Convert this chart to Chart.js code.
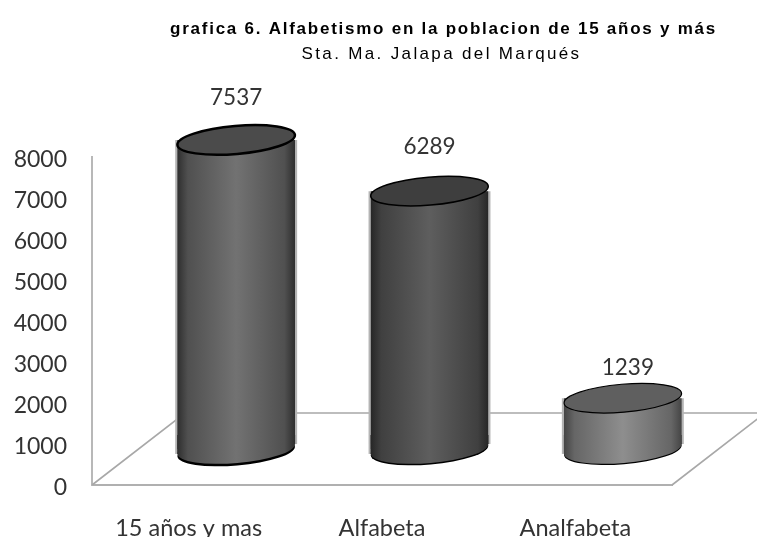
<!DOCTYPE html>
<html>
<head>
<meta charset="utf-8">
<style>html,body{margin:0;padding:0;background:#fff}canvas{display:block}</style>
<script src="https://cdn.jsdelivr.net/npm/chart.js@4"></script>
</head>
<body>
<canvas id="c" width="757" height="537"></canvas>
<script>
const categories = ['15 años y mas', 'Alfabeta', 'Analfabeta'];
const values = [7537, 6289, 1239];
const titleText = 'grafica 6. Alfabetismo en la poblacion de 15 años y más';
const subtitleText = 'Sta. Ma. Jalapa del Marqués';
const edgeColors = ['#2e2e2e', '#262626', '#444444'];
const shoulderColors = ['#505050', '#404040', '#666666'];
const midColors = ['#727272', '#5e5e5e', '#8e8e8e'];
const topColors = ['#4b4b4b', '#3e3e3e', '#5f5f5f'];
const rimWidths = [2.5, 1.5, 1.2];
const labelGaps = [42, 44, 30];
const labelShifts = [0, 0, 5];

const DEPTH_X = 47.5, DEPTH_Y = 36, RY = 14, TILT = -0.085;
const BACK_X = 93, BACK_Y = 72;

function bodyGradient(ctx, left, right, i) {
  const g = ctx.createLinearGradient(left, 0, right, 0);
  g.addColorStop(0, edgeColors[i]);
  g.addColorStop(0.09, shoulderColors[i]);
  g.addColorStop(0.5, midColors[i]);
  g.addColorStop(0.91, shoulderColors[i]);
  g.addColorStop(1, edgeColors[i]);
  return g;
}

const cylinderPlugin = {
  id: 'cylinder',
  beforeDraw(chart) {
    const boxes = {[titleText]: [1.75, 107.5], [subtitleText]: [2.35, 105.5]};
    chart.boxes.forEach(b => {
      const cfg = b.options && boxes[b.options.text];
      if (cfg && !b._patched) {
        const d = b.draw;
        b.draw = function () {
          const ctx = chart.ctx;
          ctx.save();
          ctx.letterSpacing = cfg[0] + 'px';
          ctx.translate(cfg[1], 0);
          d.call(b);
          ctx.restore();
          ctx.letterSpacing = '0px';
        };
        b._patched = true;
      }
    });
  },
  beforeDatasetsDraw(chart) {
    const {ctx, scales: {x, y}} = chart;
    const y0 = y.getPixelForValue(0);
    ctx.save();
    ctx.strokeStyle = '#a8a8a8';
    ctx.lineWidth = 1.6;
    ctx.beginPath();
    ctx.moveTo(x.left, y0);
    ctx.lineTo(x.left + BACK_X, y0 - BACK_Y);
    ctx.lineTo(chart.width, y0 - BACK_Y);
    ctx.moveTo(x.right, y0);
    ctx.lineTo(x.right + BACK_X, y0 - BACK_Y);
    ctx.stroke();
    ctx.restore();

    const bars = chart.getDatasetMeta(0).data;
    ctx.save();
    ctx.translate(DEPTH_X, -DEPTH_Y);
    bars.forEach((b, i) => {
      const rx = b.width / 2, dy = rx * Math.sin(TILT);
      // side halo, following the tilted base of the cylinder
      ctx.fillStyle = '#b4b4b4';
      ctx.beginPath();
      ctx.moveTo(b.x - rx - 2, b.y);
      ctx.lineTo(b.x + rx + 2, b.y);
      ctx.lineTo(b.x + rx + 2, b.base + dy);
      ctx.lineTo(b.x - rx - 2, b.base - dy);
      ctx.closePath();
      ctx.fill();
      // black rim under the base
      ctx.beginPath();
      ctx.ellipse(b.x, b.base + rimWidths[i], rx, RY, TILT, 0, Math.PI * 2);
      ctx.fillStyle = '#000';
      ctx.fill();
      // rounded base plus the band between the flat bar end and the tilted ends
      const grad = bodyGradient(ctx, b.x - rx, b.x + rx, i);
      ctx.fillStyle = grad;
      ctx.beginPath();
      ctx.ellipse(b.x, b.base, rx, RY, TILT, 0, Math.PI * 2);
      ctx.fill();
      ctx.beginPath();
      ctx.moveTo(b.x - rx, b.base - RY);
      ctx.lineTo(b.x + rx, b.base - RY);
      ctx.lineTo(b.x + rx, b.base + dy);
      ctx.lineTo(b.x - rx, b.base - dy);
      ctx.closePath();
      ctx.fill();
    });
    ctx.beginPath();
    bars.forEach(b => {
      const rx = b.width / 2, dy = rx * Math.sin(TILT);
      ctx.moveTo(b.x - rx, 0);
      ctx.lineTo(b.x + rx, 0);
      ctx.lineTo(b.x + rx, b.base + dy);
      ctx.lineTo(b.x - rx, b.base - dy);
      ctx.closePath();
    });
    ctx.clip();
  },
  afterDatasetsDraw(chart) {
    const {ctx} = chart;
    ctx.restore();
    const bars = chart.getDatasetMeta(0).data;
    bars.forEach((b, i) => {
      const cx = b.x + DEPTH_X, cy = b.y - DEPTH_Y;
      ctx.save();
      ctx.beginPath();
      ctx.ellipse(cx, cy, b.width / 2, RY, TILT, 0, Math.PI * 2);
      ctx.fillStyle = topColors[i];
      ctx.fill();
      ctx.strokeStyle = '#000';
      ctx.lineWidth = rimWidths[i];
      ctx.stroke();
      ctx.fillStyle = '#333';
      ctx.font = '22.5px Lato';
      ctx.textAlign = 'center';
      ctx.textBaseline = 'middle';
      ctx.fillText(String(values[i]), cx + labelShifts[i], cy - labelGaps[i]);
      ctx.restore();
    });
  }
};

new Chart(document.getElementById('c'), {
  type: 'bar',
  data: {
    labels: categories,
    datasets: [{
      data: values,
      categoryPercentage: 1,
      barPercentage: 0.61,
      borderWidth: 0,
      backgroundColor(c) {
        const area = c.chart.chartArea;
        if (!area) return '#555';
        const w = (area.right - area.left) / categories.length * 0.61;
        const cx = area.left + (area.right - area.left) * (c.dataIndex + 0.5) / categories.length;
        return bodyGradient(c.chart.ctx, cx - w / 2, cx + w / 2, c.dataIndex);
      }
    }]
  },
  plugins: [cylinderPlugin],
  options: {
    responsive: false,
    animation: false,
    layout: {padding: {left: 0, right: 85, top: 0, bottom: 0}},
    plugins: {
      legend: {display: false},
      tooltip: {enabled: false},
      title: {
        display: true,
        text: titleText,
        color: '#000',
        font: {family: '"Liberation Sans"', size: 17, weight: 'bold', lineHeight: 1.2},
        padding: {top: 19, bottom: 5}
      },
      subtitle: {
        display: true,
        text: subtitleText,
        color: '#000',
        font: {family: '"Liberation Sans"', size: 17, weight: 'normal', lineHeight: 1.2},
        padding: {top: 0, bottom: 92.2}
      }
    },
    scales: {
      x: {
        afterFit(s) { s.height = 52; },
        grid: {display: false, drawTicks: false},
        border: {display: true, color: '#b0b0b0', width: 2},
        ticks: {padding: 29, color: '#333', font: {family: 'Lato', size: 23.5}, maxRotation: 0}
      },
      y: {
        min: 0,
        max: 8000,
        afterFit(s) { s.width = 92; },
        grid: {display: false, drawTicks: false},
        border: {display: true, color: '#b8b8b8', width: 2},
        ticks: {
          stepSize: 1000,
          padding: 25,
          labelOffset: 2.5,
          color: '#333',
          font: {family: 'Lato', size: 23},
          callback: v => String(v)
        }
      }
    }
  }
});
</script>
</body>
</html>
